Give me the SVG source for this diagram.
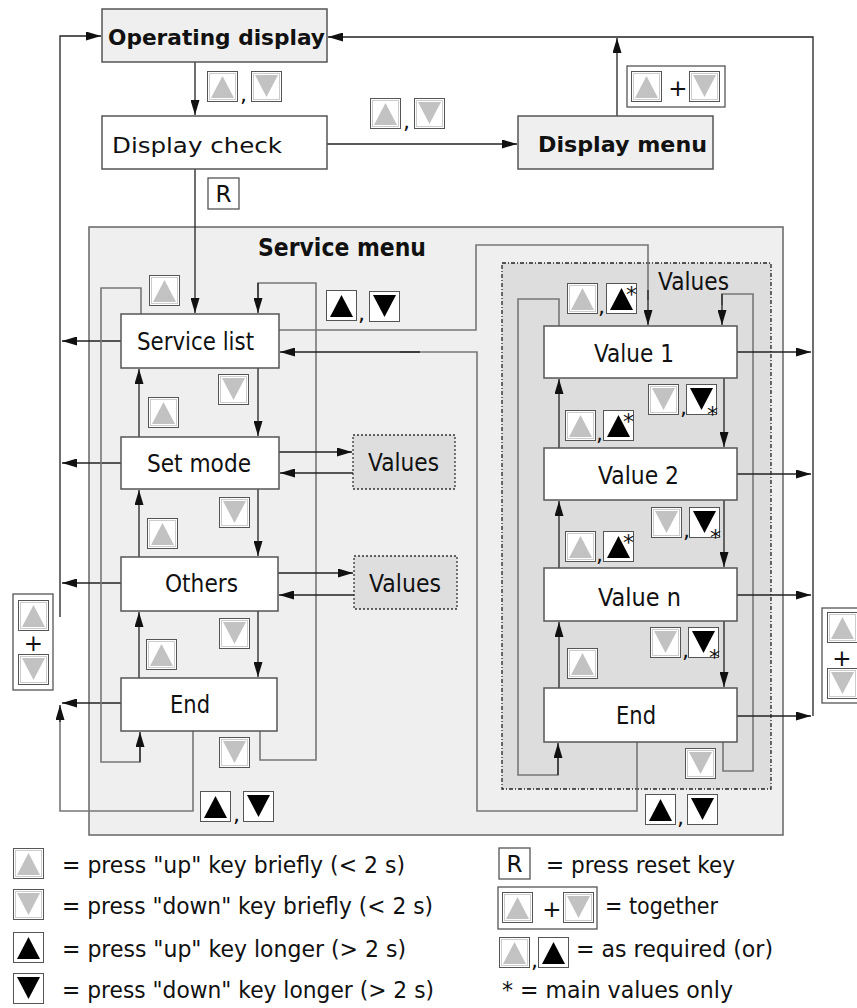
<svg xmlns="http://www.w3.org/2000/svg" width="857" height="1008" viewBox="0 0 857 1008">
<style>
.box{fill:#fff;stroke:#555;stroke-width:1.5}
.gb{fill:#efefef;stroke:#555;stroke-width:1.5}
.vb{fill:#dedede;stroke:#333;stroke-width:1.3;stroke-dasharray:2,2}
.t{font-family:"DejaVu Sans",sans-serif;font-size:22px;fill:#111}
.n{font-size:24px}
.g{font-size:23px}
.b{font-weight:bold}
.c{fill:none;stroke:#222;stroke-width:1.3}
.l{fill:none;stroke:#777;stroke-width:1.6}
.a{marker-end:url(#ah)}
.pl{fill:#fff;stroke:#555;stroke-width:1.3}
</style>
<defs>
<marker id="ah" viewBox="0 0 15 9" refX="15" refY="4.5" markerWidth="15" markerHeight="9" markerUnits="userSpaceOnUse" orient="auto">
<path d="M0,0 L15,4.5 L0,9 z" fill="#111"/>
</marker>
<g id="ug"><rect x="0.5" y="0.5" width="30" height="30" fill="#fff" stroke="#555"/><rect x="2.5" y="2.5" width="26" height="26" fill="none" stroke="#ccc"/><polygon points="4,27 27,27 15.5,5" fill="#c2c2c2"/></g>
<g id="dg"><rect x="0.5" y="0.5" width="30" height="30" fill="#fff" stroke="#555"/><rect x="2.5" y="2.5" width="26" height="26" fill="none" stroke="#ccc"/><polygon points="4,4 27,4 15.5,26" fill="#c2c2c2"/></g>
<g id="ub"><rect x="0.5" y="0.5" width="30" height="30" fill="#fff" stroke="#555"/><polygon points="4,27 27,27 15.5,5" fill="#000"/></g>
<g id="db"><rect x="0.5" y="0.5" width="30" height="30" fill="#fff" stroke="#555"/><polygon points="4,4 27,4 15.5,26" fill="#000"/></g>
</defs>
<rect width="857" height="1008" fill="#fff"/>

<g id="service-menu">
<rect x="89" y="227" width="694" height="608" class="gb" style="stroke:#666"/>
<text x="258" y="256" class="t b n" textLength="168" lengthAdjust="spacingAndGlyphs">Service menu</text>
</g>
<g id="values-container">
<rect x="502" y="263" width="269" height="526" fill="#dddddd" stroke="#222" stroke-width="1.3" stroke-dasharray="4,2,1,2"/>
<text x="658" y="290" class="t n" textLength="71" lengthAdjust="spacingAndGlyphs">Values</text>
</g>

<g id="connectors">
<path class="c a" d="M195,62 V115"/>
<path class="c a" d="M60,617 V36 H101"/>
<path class="c a" d="M813,716 V37 H328"/>
<path class="c a" d="M617,116 V38"/>
<path class="c a" d="M327,144 H517"/>
<path class="c a" d="M195,169 V313"/>
<path class="c a" d="M121,341 H62"/>
<path class="c a" d="M121,463 H62"/>
<path class="c a" d="M121,583 H62"/>
<path class="c a" d="M121,703 H62"/>
<path class="l" d="M193,731 V811 H60 V720"/>
<path class="c a" d="M60,722 V705"/>
<path class="l" d="M141,314 V288 H101 V762 H140 V745"/>
<path class="c a" d="M140,762 V732"/>
<path class="l" d="M260,731 V760 H316 V283 H258 V300"/>
<path class="c a" d="M258,283 V313"/>
<path class="c a" d="M258,368 V436"/>
<path class="c a" d="M258,489 V556"/>
<path class="c a" d="M258,611 V677"/>
<path class="c a" d="M139,437 V369"/>
<path class="c a" d="M139,557 V490"/>
<path class="c a" d="M139,678 V612"/>
<path class="c a" d="M279,452 H352"/>
<path class="c a" d="M353,473 H280"/>
<path class="c a" d="M278,573 H353"/>
<path class="c a" d="M354,595 H279"/>
<path class="l" d="M279,330 H476 V245 H648 V300"/>
<path class="c a" d="M648,290 V325"/>
<path class="l" d="M637,742 V811 H477 V352 H400"/>
<path class="c a" d="M420,352 H280"/>
<path class="l" d="M559,326 V299 H518 V775 H558 V755"/>
<path class="c a" d="M558,775 V743"/>
<path class="l" d="M723,742 V771 H753 V294 H722 V305"/>
<path class="c a" d="M722,294 V325"/>
<path class="c a" d="M724,378 V447"/>
<path class="c a" d="M724,500 V567"/>
<path class="c a" d="M724,621 V687"/>
<path class="c a" d="M559,448 V379"/>
<path class="c a" d="M559,568 V501"/>
<path class="c a" d="M559,688 V622"/>
<path class="c a" d="M737,352 H811"/>
<path class="c a" d="M737,474 H811"/>
<path class="c a" d="M737,595 H811"/>
<path class="c a" d="M737,716 H811"/>
</g>

<g id="operating-display">
<rect x="102" y="9" width="225" height="53" class="gb"/>
<text x="108" y="45" class="t b" font-size="24" textLength="217" lengthAdjust="spacingAndGlyphs">Operating display</text>
</g>
<g id="display-check">
<rect x="102" y="116" width="225" height="53" class="box"/>
<text x="112" y="153" class="t" font-size="25" textLength="170" lengthAdjust="spacingAndGlyphs">Display check</text>
</g>
<g id="display-menu">
<rect x="518" y="116" width="195" height="53" class="gb"/>
<text x="538" y="152" class="t b" font-size="24" textLength="169" lengthAdjust="spacingAndGlyphs">Display menu</text>
</g>
<g id="service-list">
<rect x="121" y="314" width="158" height="54" class="box"/>
<text x="137" y="350" class="t n" textLength="117" lengthAdjust="spacingAndGlyphs">Service list</text>
</g>
<g id="set-mode">
<rect x="121" y="437" width="158" height="52" class="box"/>
<text x="147" y="472" class="t n" textLength="104" lengthAdjust="spacingAndGlyphs">Set mode</text>
</g>
<g id="set-mode-values">
<rect x="353" y="435" width="102" height="54" class="vb"/>
<text x="368" y="471" class="t n" textLength="71" lengthAdjust="spacingAndGlyphs">Values</text>
</g>
<g id="others">
<rect x="121" y="557" width="157" height="54" class="box"/>
<text x="165" y="592" class="t n" textLength="73" lengthAdjust="spacingAndGlyphs">Others</text>
</g>
<g id="others-values">
<rect x="354" y="556" width="103" height="53" class="vb"/>
<text x="369" y="592" class="t n" textLength="72" lengthAdjust="spacingAndGlyphs">Values</text>
</g>
<g id="end-left">
<rect x="121" y="678" width="156" height="53" class="box"/>
<text x="170" y="713" class="t n" textLength="40" lengthAdjust="spacingAndGlyphs">End</text>
</g>
<g id="value-1">
<rect x="544" y="326" width="193" height="52" class="box"/>
<text x="594" y="362" class="t n" textLength="80" lengthAdjust="spacingAndGlyphs">Value 1</text>
</g>
<g id="value-2">
<rect x="544" y="448" width="193" height="52" class="box"/>
<text x="598" y="484" class="t n" textLength="81" lengthAdjust="spacingAndGlyphs">Value 2</text>
</g>
<g id="value-n">
<rect x="544" y="568" width="193" height="53" class="box"/>
<text x="598" y="606" class="t n" textLength="83" lengthAdjust="spacingAndGlyphs">Value n</text>
</g>
<g id="end-right">
<rect x="544" y="688" width="193" height="54" class="box"/>
<text x="616" y="724" class="t n" textLength="40" lengthAdjust="spacingAndGlyphs">End</text>
</g>

<g id="key-labels">
<use href="#ug" x="207" y="71"/><text x="240" y="102" class="t">,</text><use href="#dg" x="251" y="71"/>
<use href="#ug" x="370" y="98"/><text x="403" y="129" class="t">,</text><use href="#dg" x="414" y="98"/>
<rect x="627" y="66" width="98" height="41" class="pl"/>
<use href="#ug" x="631" y="71"/><text x="678" y="96" class="t g" text-anchor="middle">+</text><use href="#dg" x="689" y="71"/>
<rect x="208" y="178" width="31" height="31" class="pl"/><text x="223.5" y="202" class="t g" text-anchor="middle">R</text>

<use href="#ug" x="149" y="275"/>
<use href="#ub" x="326" y="290"/><text x="358" y="321" class="t">,</text><use href="#db" x="369" y="291"/>
<use href="#dg" x="218" y="374"/>
<use href="#ug" x="148" y="397"/>
<use href="#dg" x="219" y="497"/>
<use href="#ug" x="147" y="518"/>
<use href="#dg" x="219" y="618"/>
<use href="#ug" x="146" y="639"/>
<use href="#dg" x="219" y="737"/>
<use href="#ub" x="200" y="791"/><text x="233" y="822" class="t">,</text><use href="#db" x="243" y="791"/>

<use href="#ug" x="567" y="283"/><text x="598" y="314" class="t">,</text><use href="#ub" x="606" y="283"/><text x="626" y="302" class="t" font-size="17">*</text>
<use href="#dg" x="648" y="384"/><text x="680" y="415" class="t">,</text><use href="#db" x="686" y="384"/><text x="707" y="422" class="t" font-size="17">*</text>
<use href="#ug" x="565" y="410"/><text x="596" y="441" class="t">,</text><use href="#ub" x="603" y="410"/><text x="623" y="429" class="t" font-size="17">*</text>
<use href="#dg" x="651" y="507"/><text x="683" y="538" class="t">,</text><use href="#db" x="689" y="507"/><text x="710" y="545" class="t" font-size="17">*</text>
<use href="#ug" x="565" y="531"/><text x="596" y="562" class="t">,</text><use href="#ub" x="603" y="531"/><text x="623" y="550" class="t" font-size="17">*</text>
<use href="#dg" x="650" y="627"/><text x="682" y="658" class="t">,</text><use href="#db" x="688" y="627"/><text x="709" y="665" class="t" font-size="17">*</text>
<use href="#ug" x="567" y="648"/>
<use href="#dg" x="685" y="748"/>
<use href="#ub" x="645" y="794"/><text x="677" y="825" class="t">,</text><use href="#db" x="687" y="794"/>

<rect x="13" y="594" width="40" height="96" class="pl"/>
<use href="#ug" x="18" y="600"/><text x="33.5" y="651" class="t g" text-anchor="middle">+</text><use href="#dg" x="18" y="654"/>
<rect x="822" y="608" width="50" height="95" class="pl"/>
<use href="#ug" x="827" y="612"/><text x="842" y="666" class="t g" text-anchor="middle">+</text><use href="#dg" x="827" y="668"/>
</g>

<g id="legend">
<use href="#ug" x="13" y="848"/><text x="62" y="873" class="t g" textLength="343" lengthAdjust="spacingAndGlyphs">= press "up" key briefly (&lt; 2 s)</text>
<use href="#dg" x="13" y="889"/><text x="62" y="914" class="t g" textLength="371" lengthAdjust="spacingAndGlyphs">= press "down" key briefly (&lt; 2 s)</text>
<use href="#ub" x="13" y="932"/><text x="62" y="957" class="t g" textLength="344" lengthAdjust="spacingAndGlyphs">= press "up" key longer (&gt; 2 s)</text>
<use href="#db" x="13" y="973"/><text x="62" y="998" class="t g" textLength="372" lengthAdjust="spacingAndGlyphs">= press "down" key longer (&gt; 2 s)</text>
<rect x="499" y="848" width="31" height="31" class="pl"/><text x="514.5" y="872" class="t g" text-anchor="middle">R</text>
<text x="546" y="873" class="t g" textLength="189" lengthAdjust="spacingAndGlyphs">= press reset key</text>
<rect x="498" y="887" width="99" height="42" class="pl"/>
<use href="#ug" x="502" y="892"/><text x="552" y="917" class="t g" text-anchor="middle">+</text><use href="#dg" x="563" y="892"/>
<text x="605" y="914" class="t g" textLength="113" lengthAdjust="spacingAndGlyphs">= together</text>
<use href="#ug" x="499" y="937"/><text x="531" y="968" class="t">,</text><use href="#ub" x="538" y="937"/>
<text x="576" y="957" class="t g" textLength="197" lengthAdjust="spacingAndGlyphs">= as required (or)</text>
<text x="502" y="998" class="t g" textLength="231" lengthAdjust="spacingAndGlyphs">* = main values only</text>
</g>
</svg>
